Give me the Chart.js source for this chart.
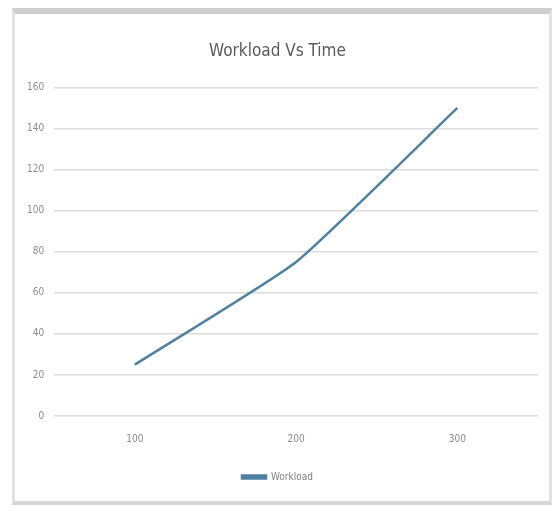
<!DOCTYPE html>
<html>
<head>
<meta charset="utf-8">
<script src="https://cdn.jsdelivr.net/npm/chart.js@4/dist/chart.umd.min.js"></script>
<style>
  html, body { margin: 0; padding: 0; background: #ffffff; }
  body { width: 556px; height: 511px; position: relative; overflow: hidden; }
  #frame {
    position: absolute; left: 12px; top: 8px; width: 534px; height: 487px;
    border-top: 6px solid #cfcfcf; border-left: 3px solid #e2e2e2;
    border-right: 3px solid #e2e2e2; border-bottom: 4px solid #d6d6d6;
    background: #ffffff;
  }
  #wrap { position: absolute; left: 0; top: 0; width: 534px; height: 487px; }
</style>
</head>
<body>
<div id="frame"><div id="wrap"><canvas id="chart"></canvas></div></div>
<script>
const categories = ['100', '200', '300'];
const workload = [25, 75, 150];
const yTicks = [0, 20, 40, 60, 80, 100, 120, 140, 160];

const fontFamily = "'Liberation Sans Narrow', 'DejaVu Sans Condensed', 'Liberation Sans', sans-serif";

new Chart(document.getElementById('chart'), {
  type: 'line',
  data: {
    labels: categories,
    datasets: [{
      label: 'Workload',
      data: workload,
      borderColor: '#4f81a0',
      backgroundColor: '#4f81a0',
      borderWidth: 2.5,
      pointRadius: 0,
      tension: 0.15,
      fill: false
    }]
  },
  options: {
    responsive: true,
    maintainAspectRatio: false,
    animation: false,
    layout: { padding: { left: 2, right: 11, top: 27, bottom: 9 } },
    plugins: {
      title: {
        display: true,
        text: 'Workload Vs Time',
        color: '#595959',
        font: { family: fontFamily, size: 17, weight: 'normal' },
        padding: { top: 0, bottom: 26 }
      },
      legend: {
        display: true,
        position: 'bottom',
        labels: {
          color: '#7f7f7f',
          font: { family: fontFamily, size: 10 },
          boxWidth: 24,
          boxHeight: 3,
          padding: 10
        }
      },
      tooltip: { enabled: false }
    },
    scales: {
      x: {
        offset: true,
        grid: { display: false, drawTicks: false },
        border: { display: false },
        ticks: {
          color: '#8c8c8c',
          font: { family: fontFamily, size: 10 },
          padding: 17
        }
      },
      y: {
        min: yTicks[0],
        max: yTicks[yTicks.length - 1],
        afterBuildTicks: (axis) => { axis.ticks = yTicks.map(v => ({ value: v })); },
        grid: { color: '#dcdcdc', lineWidth: 1.5, drawTicks: false },
        border: { display: false },
        ticks: {
          color: '#8c8c8c',
          font: { family: fontFamily, size: 10 },
          padding: 10
        }
      }
    }
  }
});
</script>
</body>
</html>
